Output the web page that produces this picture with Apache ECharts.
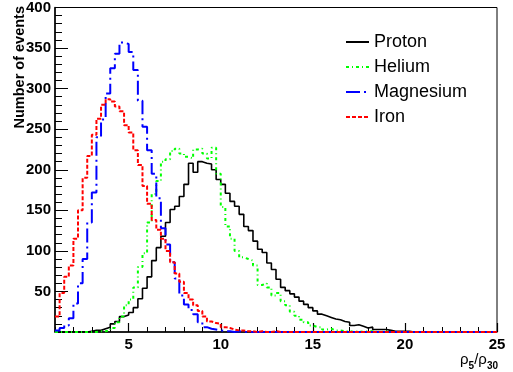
<!DOCTYPE html>
<html>
<head>
<meta charset="utf-8">
<script src="https://cdn.jsdelivr.net/npm/echarts@6/dist/echarts.min.js"></script>
<style>
  html, body { margin: 0; padding: 0; background: #fff; }
  #chart { width: 513px; height: 372px; }
</style>
</head>
<body>
<div id="chart"></div>
<script>
// histogram bins: 96 bins of width 0.25 starting at 1
var binStart = 1
var binWidth = 0.25
var seriesNames = ['Proton', 'Helium', 'Magnesium', 'Iron']
var xTickLabels = [5, 10, 15, 20, 25]

// one row per unit of rho5/rho30 (4 bins each), from 1 to 25
var proton = [
  0, 0, 0, 0,
  0, 0, 0, 1,
  2, 2, 4, 6,
  10, 13, 19, 21,
  24, 30, 41, 54,
  68, 88, 104, 118,
  135, 151, 155, 167,
  182, 208, 197, 210,
  208, 207, 200, 188,
  182, 171, 161, 155,
  145, 130, 125, 112,
  102, 98, 85, 77,
  65, 55, 51, 47,
  43, 38, 34, 30,
  26, 22, 20, 18,
  16, 15, 13, 12,
  8, 9, 7, 5,
  6, 3, 3, 3,
  2, 1, 1, 1,
  1, 0, 0, 0,
  0, 0, 0, 0,
  0, 0, 0, 0,
  0, 0, 0, 0,
  0, 0, 0, 0
]
var helium = [
  0, 0, 0, 0,
  0, 0, 0, 0,
  0, 1, 1, 2,
  5, 12, 19, 33,
  40, 55, 80, 97,
  135, 170, 186, 210,
  213, 223, 226, 220,
  216, 214, 225, 226,
  220, 214, 227, 195,
  154, 130, 115, 100,
  92, 90, 88, 82,
  58, 60, 55, 45,
  48, 38, 33, 25,
  20, 15, 12, 8,
  6, 6, 3, 4,
  2, 2, 1, 1,
  0, 1, 0, 1,
  1, 0, 0, 1,
  0, 0, 0, 0,
  0, 0, 0, 0,
  0, 0, 0, 0,
  0, 0, 0, 0,
  0, 0, 0, 0,
  0, 0, 0, 0
]
var magnesium = [
  2, 5, 8, 17,
  35, 60, 90, 135,
  172, 240, 262, 294,
  325, 343, 357, 355,
  345, 323, 285, 253,
  224, 195, 165, 128,
  108, 86, 66, 45,
  34, 27, 22, 12,
  6, 4, 3, 2,
  1, 1, 0, 1,
  0, 0, 0, 0,
  0, 0, 0, 0,
  0, 0, 0, 0,
  0, 0, 0, 0,
  0, 0, 0, 0,
  0, 0, 0, 0,
  0, 0, 0, 0,
  0, 0, 0, 0,
  0, 0, 0, 0,
  0, 0, 0, 0,
  0, 0, 0, 0,
  0, 0, 0, 0,
  0, 0, 0, 0,
  0, 0, 0, 0
]
var iron = [
  19, 48, 68, 82,
  115, 150, 190, 217,
  243, 263, 280, 287,
  284, 278, 272, 255,
  246, 224, 206, 180,
  158, 138, 126, 115,
  100, 86, 72, 62,
  48, 40, 33, 26,
  19, 13, 11, 10,
  6, 5, 3, 2,
  2, 1, 1, 0,
  1, 0, 0, 1,
  0, 0, 0, 0,
  0, 0, 0, 0,
  0, 0, 0, 0,
  0, 0, 0, 0,
  0, 0, 0, 0,
  0, 0, 0, 0,
  0, 0, 0, 0,
  0, 0, 0, 0,
  0, 0, 0, 0,
  0, 0, 0, 0,
  0, 0, 0, 0,
  0, 0, 0, 0
]

var font = '"Liberation Sans", Arial, sans-serif'

// left bin edges -> points for a step line, closed at the last right edge
function steps (values) {
  var pts = []
  for (var i = 0; i < values.length; i++) {
    pts.push([binStart + i * binWidth, values[i]])
  }
  pts.push([binStart + values.length * binWidth, values[values.length - 1]])
  return pts
}

function histo (name, values, color, width, dash) {
  return {
    name: name,
    type: 'line',
    step: 'end',
    symbol: 'none',
    data: steps(values),
    color: color,
    lineStyle: { color: color, width: width, type: dash },
    silent: true,
    animation: false
  }
}

var chart = echarts.init(document.getElementById('chart'))
chart.setOption({
  animation: false,
  backgroundColor: '#fff',
  grid: {
    left: 55, right: 16, top: 5, bottom: 40,
    show: true, borderColor: '#000', borderWidth: 1, backgroundColor: 'transparent'
  },
  legend: {
    orient: 'vertical',
    left: 340,
    top: 28,
    itemWidth: 23,
    itemHeight: 6,
    itemGap: 7,
    itemStyle: { opacity: 0 },
    textStyle: { fontSize: 18, fontFamily: font, color: '#000' },
    data: seriesNames
  },
  xAxis: [
    {
      type: 'value', min: 1, max: 25, interval: 1,
      axisLine: { lineStyle: { color: '#000', width: 1.5 } },
      axisTick: { inside: true, length: 5, lineStyle: { color: '#000' } },
      axisLabel: { show: false },
      splitLine: { show: false }
    },
    {
      type: 'value', min: 1, max: 25, position: 'bottom',
      axisLine: { show: false },
      axisTick: { inside: true, length: 9, customValues: xTickLabels, lineStyle: { color: '#000', width: 1.2 } },
      axisLabel: {
        customValues: xTickLabels, showMaxLabel: true,
        fontSize: 15, fontWeight: 'bold', fontFamily: font, color: '#000', margin: 5
      },
      splitLine: { show: false }
    }
  ],
  yAxis: {
    type: 'value', min: 0, max: 400, interval: 50,
    axisLine: { show: true, lineStyle: { color: '#000', width: 1.5 } },
    axisTick: { inside: true, length: 13, lineStyle: { color: '#000' } },
    minorTick: { show: true, splitNumber: 5, length: 7, lineStyle: { color: '#000' } },
    axisLabel: {
      fontSize: 15, fontWeight: 'bold', fontFamily: font, color: '#000', margin: 4,
      formatter: function (v) { return v === 0 ? '' : String(v) }
    },
    splitLine: { show: false },
    minorSplitLine: { show: false }
  },
  graphic: [
    {
      type: 'text', x: 20, y: 6, rotation: Math.PI / 2,
      style: {
        text: 'Number of events',
        font: 'bold 14.5px ' + font,
        fill: '#000', align: 'right', verticalAlign: 'middle'
      }
    },
    {
      type: 'text', x: 498, y: 352,
      style: {
        text: '{r|ρ}{s|5}{r|/ρ}{s|30}',
        align: 'right', verticalAlign: 'top', fill: '#000',
        rich: {
          r: { fontSize: 15, fontFamily: font, verticalAlign: 'top', fill: '#000' },
          s: { fontSize: 10, fontWeight: 'bold', fontFamily: font, verticalAlign: 'bottom', padding: [9, 0, 0, 0], fill: '#000' }
        }
      }
    }
  ],
  series: [
    histo('Proton', proton, '#000000', 1.6, 'solid'),
    histo('Helium', helium, '#00ff00', 2, [3, 3, 1, 3]),
    histo('Magnesium', magnesium, '#0000ff', 2, [14, 4, 2, 4]),
    histo('Iron', iron, '#ff0000', 2, [4, 2])
  ]
})
</script>
</body>
</html>
